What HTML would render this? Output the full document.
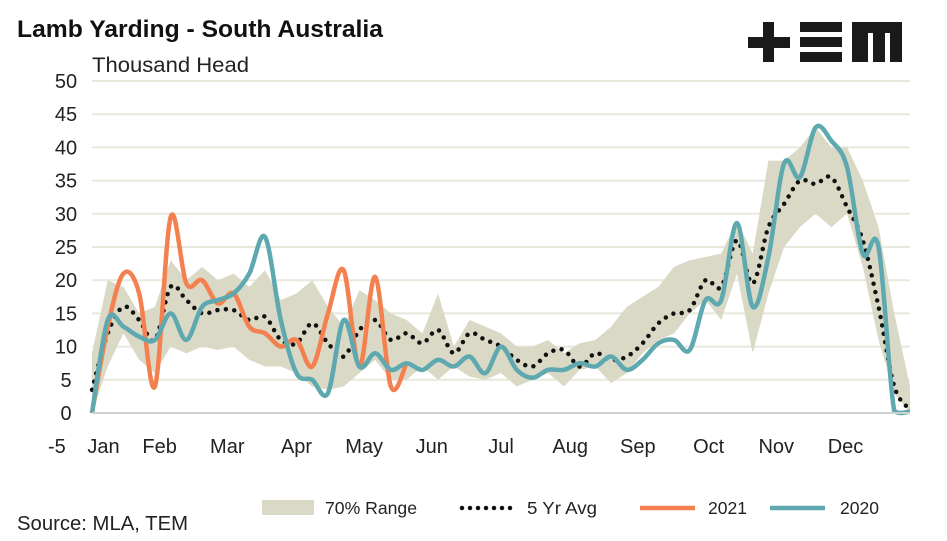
<!DOCTYPE html>
<html><head><meta charset="utf-8"><style>
body{margin:0;background:#fff;width:947px;height:541px;overflow:hidden;font-family:"Liberation Sans",sans-serif}
svg{display:block}
</style></head><body>
<svg id="chart" width="947" height="541">
<text x="17" y="37" font-size="24" font-weight="bold" fill="#111" textLength="366" lengthAdjust="spacingAndGlyphs">Lamb Yarding - South Australia</text>
<text x="92" y="72" font-size="21" fill="#222" textLength="157" lengthAdjust="spacingAndGlyphs">Thousand Head</text>
<g fill="#1a1a1a">
<rect x="748" y="37" width="42" height="11"/><rect x="763" y="22" width="11" height="40"/>
<rect x="800" y="22" width="42" height="10"/><rect x="800" y="37" width="42" height="10"/><rect x="800" y="52" width="42" height="10"/>
<rect x="852" y="22" width="50" height="40"/><rect x="868" y="33" width="5" height="29" fill="#fff"/><rect x="885" y="33" width="5" height="29" fill="#fff"/>
</g>
<g id="grid"></g><g id="plot"></g><g id="axes"></g>
<g>
<rect x="262" y="500" width="52" height="15" fill="#d9d9c5"/>
<text x="325" y="514" font-size="17.5" fill="#222" textLength="92" lengthAdjust="spacingAndGlyphs">70% Range</text>
<line x1="462" y1="508" x2="512" y2="508" stroke="#111" stroke-width="4.5" stroke-linecap="round" stroke-dasharray="0 8"/>
<text x="527" y="514" font-size="17.5" fill="#222" textLength="70" lengthAdjust="spacingAndGlyphs">5 Yr Avg</text>
<line x1="640" y1="508" x2="695" y2="508" stroke="#f5804f" stroke-width="4.5"/>
<text x="708" y="514" font-size="17.5" fill="#222">2021</text>
<line x1="770" y1="508" x2="825" y2="508" stroke="#5ea8b0" stroke-width="4.5"/>
<text x="840" y="514" font-size="17.5" fill="#222">2020</text>
</g>
<text x="17" y="530" font-size="20" fill="#222" textLength="171" lengthAdjust="spacingAndGlyphs">Source: MLA, TEM</text>
</svg>
<script>
const yTicks=[0,5,10,15,20,25,30,35,40,45,50];
const monthLabels=["-5 Jan","Feb","Mar","Apr","May","Jun","Jul","Aug","Sep","Oct","Nov","Dec"];
const monthWeeks=[0,4.3,8.6,13,17.3,21.6,26,30.4,34.7,39.2,43.5,47.9];
const rangeLow=[0,7,12,8,6,10,9,10,9.5,10,8,7,7,6,4,3.5,4,6,8,5,5,7,5,7,5.5,5,6,4,5,6,4,6.5,7,4.5,6,9,11,12,15,17,14,21,9,18,25,28,30,28,30,22,11,3,0];
const rangeHigh=[9,20,19,15,16,23,20,22,20,21,19,21.5,17,18,20,16,13,18.5,17,15,14,12,18,10,14,13,12,10,10,11,9,10.5,11,13,16,17.5,19,22,23,23.5,24,29,24,38,38,40,43,40,40,35,28,15,4];
const avg5=[3.5,12,16,14,11,19,17,15,15.5,15.5,14,14.5,11,10.5,13.5,10.5,8.5,12.5,14,11,12,10.5,12.5,9,12,11,10,8,7,9,9.5,7,9,8,8.5,10.5,13.5,15,15.5,20,19,26,19.5,28,31.5,35,34.5,35.5,31,26,16,4,0.5];
const y2021=[0,13,21,18,4,29.5,19.5,20,16.5,18,13,12,10,11,7,15,21.5,7,20.5,4,7.5];
const y2020=[0,14,13,11.5,11,15,11,16,17,18,21,26.5,14,6,5,3,14,7,9,6.5,7.5,6.5,8,7,8.5,6,10,6.5,5.3,6.5,6.5,7.5,7,8.5,6.5,8,10.5,11,9.5,17,17,28.6,16,23.5,37.6,35.5,43,41,37,24,25,0.3,0.2];
const X0=92,X1=910,Y0=413,Y1=81,NW=52;
const xs=w=>X0+w*(X1-X0)/NW;
const ys=v=>Y0-v*(Y0-Y1)/50;
const NS="http://www.w3.org/2000/svg";
function mk(tag,attrs,parent){const e=document.createElementNS(NS,tag);for(const k in attrs)e.setAttribute(k,attrs[k]);parent.appendChild(e);return e;}
const grid=document.getElementById('grid'),plot=document.getElementById('plot'),axes=document.getElementById('axes');
yTicks.forEach(t=>{
 if(t>0){const l=mk('line',{x1:X0,x2:X1,y1:ys(t),y2:ys(t),stroke:'#e8e8dc','stroke-width':2},grid);
 
 }
 const tx=mk('text',{x:66,y:ys(t)+7,'font-size':20,fill:'#222','text-anchor':'middle'},axes);tx.textContent=t;
 
 
});
const ax=mk('line',{x1:X0,x2:X1,y1:Y0,y2:Y0,stroke:'#d0d0d0','stroke-width':2},axes);


monthLabels.forEach((m,i)=>{const tx=mk('text',{x:xs(monthWeeks[i]),y:453,'font-size':20,fill:'#222','text-anchor':'middle'},axes);tx.textContent=m;
 if(i==0){tx.setAttribute('x',48);tx.setAttribute('text-anchor','start');tx.setAttribute('word-spacing','16');}
 
 });
let d='';rangeHigh.forEach((v,i)=>d+=(i?'L':'M')+xs(i)+','+ys(v));
for(let i=rangeLow.length-1;i>=0;i--)d+='L'+xs(i)+','+ys(rangeLow[i]);
const band=mk('path',{d:d+'Z',fill:'#d9d9c5'},plot);


function smooth(arr){const p=arr.map((v,i)=>[xs(i),ys(v)]);let s='M'+p[0][0]+','+p[0][1];
 const cl=y=>Math.min(y,Y0+2);
 for(let i=0;i<p.length-1;i++){const a=p[i-1]||p[i],b=p[i],c=p[i+1],e=p[i+2]||c;
 s+='C'+(b[0]+(c[0]-a[0])/6)+','+cl(b[1]+(c[1]-a[1])/6)+' '+(c[0]-(e[0]-b[0])/6)+','+cl(c[1]-(e[1]-b[1])/6)+' '+c[0]+','+c[1];}return s;}
const av=mk('path',{d:smooth(avg5),fill:'none',stroke:'#111','stroke-width':4.5,'stroke-linecap':'round','stroke-dasharray':'0 8.5'},plot);


const l21=mk('path',{d:smooth(y2021),fill:'none',stroke:'#f5804f','stroke-width':4.5},plot);


const l20=mk('path',{d:smooth(y2020),fill:'none',stroke:'#5ea8b0','stroke-width':4.5},plot);


</script>
</body></html>
